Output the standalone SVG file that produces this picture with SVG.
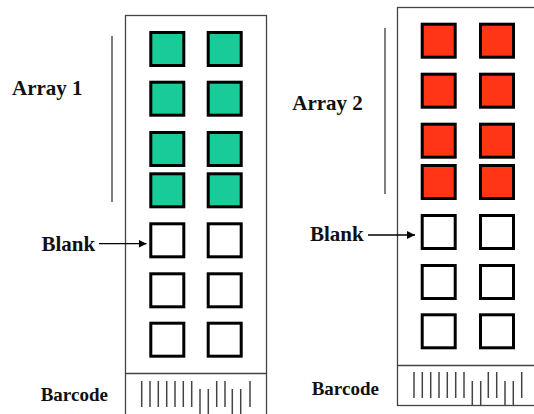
<svg xmlns="http://www.w3.org/2000/svg" width="534" height="414" viewBox="0 0 534 414">
  <style>
    .slide { fill: #ffffff; stroke: #444444; stroke-width: 1.3; }
    .sep { stroke: #444444; stroke-width: 1.3; }
    .spot { stroke: #000000; stroke-width: 3; }
    .green { fill: #19CB98; }
    .red { fill: #FF3516; }
    .blank { fill: #ffffff; }
    .brace { stroke: #555555; stroke-width: 1.5; }
    .bar { stroke: #444444; stroke-width: 1.5; }
    .label { font-family: "Liberation Serif", "Times New Roman", serif; font-weight: 700; fill: #111111; }
    .arrow { stroke: #000000; stroke-width: 1.3; fill: none; }
  </style>
  <defs>
    <marker id="head" viewBox="0 0 10 10" refX="10" refY="5" markerWidth="8" markerHeight="8" markerUnits="userSpaceOnUse" orient="auto">
      <path d="M0,0 L10,5 L0,10 Z" fill="#000000"/>
    </marker>
  </defs>
  <rect width="534" height="414" fill="#ffffff"/>

  <!-- slide 1 -->
  <g id="slide1">
    <rect class="slide" x="125.5" y="15.5" width="141" height="410"/>
    <line class="sep" x1="125.5" y1="373.5" x2="266.5" y2="373.5"/>
    <g class="spot">
      <rect class="green" x="150.8" y="32.5" width="33" height="33"/>
      <rect class="green" x="208.2" y="32.5" width="33" height="33"/>
      <rect class="green" x="150.8" y="82.2" width="33" height="33"/>
      <rect class="green" x="208.2" y="82.2" width="33" height="33"/>
      <rect class="green" x="150.8" y="132.5" width="33" height="33"/>
      <rect class="green" x="208.2" y="132.5" width="33" height="33"/>
      <rect class="green" x="150.8" y="173.8" width="33" height="33"/>
      <rect class="green" x="208.2" y="173.8" width="33" height="33"/>
      <rect class="blank" x="150.8" y="223.8" width="33" height="33"/>
      <rect class="blank" x="208.2" y="223.8" width="33" height="33"/>
      <rect class="blank" x="150.8" y="273.8" width="33" height="33"/>
      <rect class="blank" x="208.2" y="273.8" width="33" height="33"/>
      <rect class="blank" x="150.8" y="323.2" width="33" height="33"/>
      <rect class="blank" x="208.2" y="323.2" width="33" height="33"/>
    </g>
    <g class="bar">
      <line x1="141.7" y1="381" x2="141.7" y2="407"/>
      <line x1="150" y1="381" x2="150" y2="407"/>
      <line x1="158.3" y1="381" x2="158.3" y2="407"/>
      <line x1="166.7" y1="381" x2="166.7" y2="407"/>
      <line x1="175" y1="381" x2="175" y2="407"/>
      <line x1="183.3" y1="381" x2="183.3" y2="407"/>
      <line x1="191.7" y1="381" x2="191.7" y2="407"/>
      <line x1="200" y1="389" x2="200" y2="414"/>
      <line x1="208.3" y1="389" x2="208.3" y2="414"/>
      <line x1="216.7" y1="381" x2="216.7" y2="407"/>
      <line x1="225" y1="381" x2="225" y2="407"/>
      <line x1="232.3" y1="389" x2="232.3" y2="414"/>
      <line x1="240.7" y1="389" x2="240.7" y2="414"/>
      <line x1="250" y1="381" x2="250" y2="407"/>
    </g>
  </g>

  <!-- slide 2 -->
  <g id="slide2">
    <rect class="slide" x="397.5" y="7.5" width="200" height="398"/>
    <line class="sep" x1="397.5" y1="365.5" x2="534" y2="365.5"/>
    <g class="spot">
      <rect class="red" x="422.2" y="24.2" width="33" height="33"/>
      <rect class="red" x="480.5" y="24.2" width="33" height="33"/>
      <rect class="red" x="422.2" y="74.2" width="33" height="33"/>
      <rect class="red" x="480.5" y="74.2" width="33" height="33"/>
      <rect class="red" x="422.2" y="124.2" width="33" height="33"/>
      <rect class="red" x="480.5" y="124.2" width="33" height="33"/>
      <rect class="red" x="422.2" y="165.5" width="33" height="33"/>
      <rect class="red" x="480.5" y="165.5" width="33" height="33"/>
      <rect class="blank" x="422.2" y="215.5" width="33" height="33"/>
      <rect class="blank" x="480.5" y="215.5" width="33" height="33"/>
      <rect class="blank" x="422.2" y="265.5" width="33" height="33"/>
      <rect class="blank" x="480.5" y="265.5" width="33" height="33"/>
      <rect class="blank" x="422.2" y="314.8" width="33" height="33"/>
      <rect class="blank" x="480.5" y="314.8" width="33" height="33"/>
    </g>
    <g class="bar">
      <line x1="414" y1="372" x2="414" y2="398"/>
      <line x1="422.3" y1="372" x2="422.3" y2="398"/>
      <line x1="430.7" y1="372" x2="430.7" y2="398"/>
      <line x1="439" y1="372" x2="439" y2="398"/>
      <line x1="447.3" y1="372" x2="447.3" y2="398"/>
      <line x1="455.7" y1="372" x2="455.7" y2="398"/>
      <line x1="464" y1="372" x2="464" y2="398"/>
      <line x1="472.3" y1="381" x2="472.3" y2="405.5"/>
      <line x1="480.7" y1="381" x2="480.7" y2="405.5"/>
      <line x1="488.3" y1="372" x2="488.3" y2="398"/>
      <line x1="496.7" y1="372" x2="496.7" y2="398"/>
      <line x1="505" y1="381" x2="505" y2="405.5"/>
      <line x1="513.3" y1="381" x2="513.3" y2="405.5"/>
      <line x1="521.7" y1="372" x2="521.7" y2="398"/>
    </g>
  </g>

  <!-- labels -->
  <g id="label-array1">
    <line class="brace" x1="112" y1="36" x2="112" y2="202"/>
    <text class="label" x="12" y="94.5" font-size="21">Array 1</text>
  </g>
  <g id="label-array2">
    <line class="brace" x1="385" y1="28" x2="385" y2="194"/>
    <text class="label" x="292.3" y="110" font-size="21">Array 2</text>
  </g>
  <g id="label-blank1">
    <text class="label" x="41.5" y="251" font-size="21">Blank</text>
  </g>
  <g id="label-blank2">
    <text class="label" x="310" y="241" font-size="21">Blank</text>
  </g>
  <g id="label-barcode1">
    <text class="label" x="40.7" y="400.7" font-size="19">Barcode</text>
  </g>
  <g id="label-barcode2">
    <text class="label" x="311.7" y="395" font-size="19">Barcode</text>
  </g>

  <!-- connectors -->
  <g id="connectors">
    <line class="arrow" x1="99" y1="243.7" x2="146.5" y2="243.7" marker-end="url(#head)"/>
    <line class="arrow" x1="368" y1="235" x2="415" y2="235" marker-end="url(#head)"/>
  </g>
</svg>
